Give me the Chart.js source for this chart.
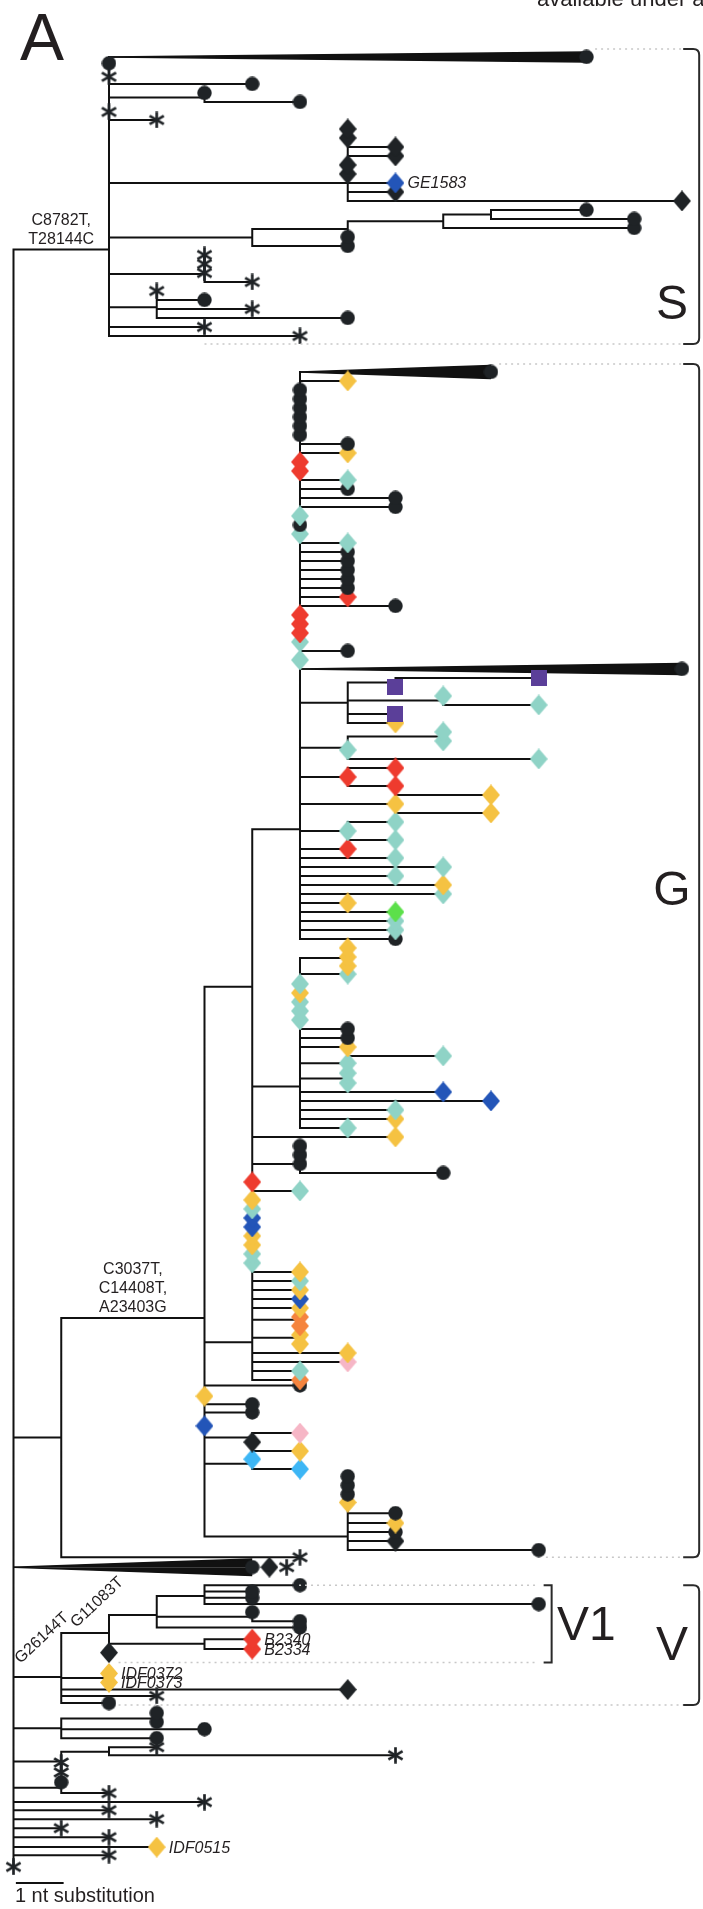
<!DOCTYPE html>
<html>
<head>
<meta charset="utf-8">
<title>Phylogeny A</title>
<script src="https://cdn.jsdelivr.net/npm/chart.js@4.4.1/dist/chart.umd.min.js"></script>
<style>
  html, body { margin: 0; padding: 0; background: #fff; }
  #tree { display: block; }
</style>
</head>
<body>
<canvas id="tree" width="703" height="1909"></canvas>
<script>
// --- TREE DATA ---
// every entry: [node id ('-' for a tip), parent id, distance from root (nt), row, tip mark, tip label]
// tip marks: c circle, a asterisk, q square, diamonds: k black, y yellow, t teal, r red,
// b blue, g green, o orange, p pink, l light blue
const sClade = [
  ['S', 'root', 2, 21.4],
  ['-', 'S', 2, 0.7, 'c'], ['-', 'S', 2, 2.2, 'a'], ['-', 'S', 5, 3, 'c'],
  ['sA', 'S', 4, 4.5], ['-', 'sA', 4, 4, 'c'], ['-', 'sA', 6, 5, 'c'],
  ['-', 'S', 2, 6.1, 'a'], ['-', 'S', 3, 7, 'a'],
  ['sB', 'S', 7, 14],
  ['-', 'sB', 7, 8, 'k'], ['-', 'sB', 7, 9, 'k'], ['-', 'sB', 8, 10, 'k'], ['-', 'sB', 8, 11, 'k'],
  ['-', 'sB', 7, 12, 'k'], ['-', 'sB', 7, 13, 'k'], ['-', 'sB', 8, 14, 'b', 'GE1583'],
  ['-', 'sB', 8, 15, 'k'], ['-', 'sB', 14, 16, 'k'],
  ['sC', 'S', 5, 20.06], ['sD', 'sC', 7, 19.1], ['sE', 'sD', 9, 18.25], ['sF', 'sE', 10, 17.5],
  ['-', 'sF', 12, 17, 'c'], ['-', 'sF', 13, 18, 'c'], ['-', 'sE', 13, 19, 'c'],
  ['-', 'sD', 7, 20, 'c'], ['-', 'sC', 7, 21, 'c'],
  ['sG', 'S', 4, 24.1], ['-', 'sG', 4, 22, 'a'], ['-', 'sG', 4, 23, 'a'], ['-', 'sG', 4, 24, 'a'], ['-', 'sG', 5, 25, 'a'],
  ['sI', 'S', 3, 27.8], ['-', 'sI', 3, 26, 'a'], ['-', 'sI', 4, 27, 'c'], ['-', 'sI', 5, 28, 'a'], ['-', 'sI', 7, 29, 'c'],
  ['-', 'S', 4, 30, 'a'], ['-', 'S', 6, 31, 'a']
];

const gUpper = [
  ['G', 'root', 1, 153.4], ['G4', 'G', 4, 140.1], ['G5a', 'G4', 5, 103.3], ['P6', 'G5a', 6, 85.8],
  ['-', 'P6', 7, 36, 'y'],
  ['-', 'P6', 6, 37, 'c'], ['-', 'P6', 6, 38, 'c'], ['-', 'P6', 6, 39, 'c'], ['-', 'P6', 6, 40, 'c'], ['-', 'P6', 6, 41, 'c'], ['-', 'P6', 6, 42, 'c'],
  ['-', 'P6', 7, 43, 'c'], ['-', 'P6', 7, 44, 'y'], ['-', 'P6', 6, 45, 'r'], ['-', 'P6', 6, 46, 'r'],
  ['-', 'P6', 7, 47, 't'], ['-', 'P6', 7, 48, 'c'], ['-', 'P6', 8, 49, 'c'], ['-', 'P6', 8, 50, 'c'],
  ['-', 'P6', 6, 51, 't'], ['-', 'P6', 6, 52, 'c'], ['-', 'P6', 6, 53, 't'],
  ['-', 'P6', 7, 54, 't'], ['-', 'P6', 7, 55, 'c'], ['-', 'P6', 7, 56, 'c'], ['-', 'P6', 7, 57, 'c'], ['-', 'P6', 7, 58, 'c'],
  ['-', 'P6', 7, 59, 'c'], ['-', 'P6', 7, 60, 'r'], ['-', 'P6', 8, 61, 'c'],
  ['-', 'P6', 6, 62, 'r'], ['-', 'P6', 6, 63, 'r'], ['-', 'P6', 6, 64, 'r'], ['-', 'P6', 6, 65, 't'], ['-', 'P6', 7, 66, 'c'], ['-', 'P6', 6, 67, 't'],
  ['N7a', 'P6', 7, 71.75], ['N8a', 'N7a', 8, 69.5], ['-', 'N8a', 11, 69, 'q'], ['-', 'N8a', 8, 70, 'q'],
  ['N9a', 'N7a', 9, 71.5], ['-', 'N9a', 9, 71, 't'], ['-', 'N9a', 11, 72, 't'], ['-', 'N7a', 8, 73, 'q'], ['-', 'N7a', 8, 74, 'y'],
  ['N7b', 'P6', 7, 76.75], ['N9b', 'N7b', 9, 75.5], ['-', 'N9b', 9, 75, 't'], ['-', 'N9b', 9, 76, 't'],
  ['-', 'N7b', 7, 77, 't'], ['-', 'N7b', 11, 78, 't'],
  ['N7c', 'P6', 7, 80], ['-', 'N7c', 8, 79, 'r'], ['-', 'N7c', 7, 80, 'r'],
  ['N8c', 'N7c', 8, 81], ['-', 'N8c', 8, 81, 'r'], ['-', 'N8c', 10, 82, 'y'],
  ['N8d', 'P6', 8, 83], ['-', 'N8d', 8, 83, 'y'], ['-', 'N8d', 10, 84, 'y'],
  ['N7e', 'P6', 7, 86], ['-', 'N7e', 8, 85, 't'], ['-', 'N7e', 7, 86, 't'], ['-', 'N7e', 8, 87, 't'],
  ['-', 'P6', 7, 88, 'r'], ['-', 'P6', 8, 89, 't'], ['-', 'P6', 9, 90, 't'], ['-', 'P6', 8, 91, 't'],
  ['-', 'P6', 9, 92, 'y'], ['-', 'P6', 9, 93, 't'], ['-', 'P6', 7, 94, 'y'], ['-', 'P6', 8, 95, 'g'],
  ['-', 'P6', 8, 96, 't'], ['-', 'P6', 8, 97, 't'], ['-', 'P6', 8, 98, 'c']
];

const gMiddle = [
  ['N6g', 'G5a', 6, 114.4],
  ['N7f', 'N6g', 7, 100.1], ['-', 'N7f', 7, 99, 'y'], ['-', 'N7f', 7, 100, 'y'], ['-', 'N7f', 7, 101, 'y'],
  ['-', 'N6g', 7, 101.9, 't'],
  ['-', 'N6g', 6, 103, 't'], ['-', 'N6g', 6, 104, 'y'], ['-', 'N6g', 6, 105, 't'], ['-', 'N6g', 6, 106, 't'], ['-', 'N6g', 6, 107, 't'],
  ['-', 'N6g', 7, 108, 'c'], ['-', 'N6g', 7, 109, 'c'],
  ['N7g', 'N6g', 7, 110], ['-', 'N7g', 7, 110, 'y'], ['-', 'N7g', 9, 111, 't'],
  ['-', 'N6g', 7, 111.8, 't'], ['N7h', 'N6g', 7, 113.5], ['-', 'N7h', 7, 112.9, 't'], ['-', 'N7h', 7, 114, 't'],
  ['-', 'N6g', 9, 115, 'b'], ['-', 'N6g', 10, 116, 'b'], ['-', 'N6g', 8, 117, 't'], ['-', 'N6g', 8, 118, 'y'], ['-', 'N6g', 7, 119, 't'],
  ['-', 'G5a', 8, 120, 'y'],
  ['N6h', 'G5a', 6, 123], ['-', 'N6h', 6, 121, 'c'], ['-', 'N6h', 6, 122, 'c'], ['-', 'N6h', 6, 123, 'c'], ['-', 'N6h', 9, 124, 'c'],
  ['-', 'G5a', 5, 125, 'r'], ['-', 'G5a', 6, 126, 't'],
  ['-', 'G5a', 5, 127, 'y'], ['-', 'G5a', 5, 128, 't'], ['-', 'G5a', 5, 129, 'b'], ['-', 'G5a', 5, 130, 'b'],
  ['-', 'G5a', 5, 131, 'y'], ['-', 'G5a', 5, 132, 'y'], ['-', 'G5a', 5, 133, 't'], ['-', 'G5a', 5, 134, 't']
];

const gLower = [
  ['G5b', 'G4', 5, 142.8],
  ['-', 'G5b', 6, 135, 'y'], ['-', 'G5b', 6, 136, 't'], ['-', 'G5b', 6, 137, 'y'], ['-', 'G5b', 6, 138, 'b'],
  ['-', 'G5b', 6, 139, 'y'],
  ['G6c', 'G5b', 6, 140.3], ['-', 'G6c', 6, 140, 'o'], ['-', 'G6c', 6, 141, 'o'],
  ['G6d', 'G5b', 6, 142.3], ['-', 'G6d', 6, 142, 'y'], ['-', 'G6d', 6, 143, 'y'],
  ['-', 'G5b', 7, 144, 'y'], ['-', 'G5b', 7, 145, 'p'], ['-', 'G5b', 6, 146, 't'], ['-', 'G5b', 6, 147, 'o'],
  ['-', 'G4', 6, 147.6, 'c'], ['-', 'G4', 4, 148.8, 'y'], ['-', 'G4', 5, 149.7, 'c'], ['-', 'G4', 5, 150.6, 'c'], ['-', 'G4', 4, 152.1, 'b'],
  ['N5h', 'G4', 5, 153.4], ['-', 'N5h', 6, 152.9, 'p'], ['-', 'N5h', 5, 153.9, 'k'], ['-', 'N5h', 6, 154.9, 'y'],
  ['N5i', 'G4', 5, 156.3], ['-', 'N5i', 5, 155.8, 'l'], ['-', 'N5i', 6, 156.9, 'l'],
  ['N7j', 'G4', 7, 164.4], ['-', 'N7j', 7, 157.7, 'c'], ['-', 'N7j', 7, 158.7, 'c'], ['-', 'N7j', 7, 159.7, 'c'],
  ['-', 'N7j', 7, 160.6, 'y'], ['-', 'N7j', 8, 161.8, 'c'], ['-', 'N7j', 8, 162.9, 'y'], ['-', 'N7j', 8, 163.9, 'c'],
  ['-', 'N7j', 8, 164.9, 'k'], ['-', 'N7j', 11, 165.9, 'c'],
  ['-', 'G', 6, 166.7, 'a']
];

const vClade = [
  ['V', 'root', 1, 180], ['V2', 'V', 2, 175.1], ['V1', 'V2', 3, 173.1], ['V1a', 'V1', 4, 171],
  ['-', 'V1a', 6, 169.8, 'c'], ['-', 'V1a', 5, 170.5, 'c'], ['-', 'V1a', 5, 171.2, 'c'], ['-', 'V1a', 11, 171.9, 'c'],
  ['V1b', 'V1', 5, 173.3], ['-', 'V1b', 5, 172.8, 'c'], ['-', 'V1b', 6, 173.8, 'c'], ['-', 'V1', 6, 174.5, 'c'],
  ['VB', 'V2', 4, 176.3], ['-', 'VB', 5, 175.8, 'r', 'B2340'], ['-', 'VB', 5, 176.9, 'r', 'B2334'],
  ['-', 'V2', 2, 177.3, 'k'],
  ['V3', 'V', 2, 180.1], ['-', 'V3', 2, 179.6, 'y', 'IDF0372'], ['-', 'V3', 2, 180.6, 'y', 'IDF0373'],
  ['-', 'V', 7, 181.4, 'k'], ['-', 'V', 3, 182.1, 'a'], ['-', 'V', 2, 182.9, 'c']
];

const basal = [
  ['R1', 'root', 1, 185.7], ['R1a', 'R1', 3, 184.6], ['-', 'R1a', 3, 184.0, 'c'], ['-', 'R1a', 3, 185.0, 'c'],
  ['-', 'R1', 4, 185.8, 'c'], ['-', 'R1', 3, 186.8, 'c'],
  ['R2', 'root', 1, 189.4], ['R2a', 'R2', 2, 188.3], ['-', 'R2a', 3, 187.8, 'a'], ['-', 'R2a', 8, 188.7, 'a'],
  ['-', 'R2', 1, 189.5, 'a'], ['-', 'R2', 1, 190.6, 'a'],
  ['R3', 'root', 1, 192.3], ['-', 'R3', 1, 191.7, 'c'], ['-', 'R3', 2, 192.9, 'a'],
  ['-', 'root', 4, 193.9, 'a'], ['-', 'root', 2, 194.8, 'a'], ['-', 'root', 3, 195.8, 'a'], ['-', 'root', 1, 196.8, 'a'],
  ['-', 'root', 2, 197.8, 'a'], ['-', 'root', 3, 198.9, 'y', 'IDF0515'], ['-', 'root', 2, 199.8, 'a'], ['-', 'root', 0, 201.1, 'a']
];

// collapsed clades: [parent, tip distance (nt), row, half height (rows), marks at the tip]
const collapsed = [
  ['S', 12, 0, 0.55, ['c']],
  ['P6', 10, 35, 0.72, ['c']],
  ['P6', 14, 68, 0.62, ['c']],
  ['root', 5, 167.8, 0.92, ['c', 'k', 'a']]
];

// named clades: [name, first row, last row]
const clades = [['S', -0.9, 31.9], ['G', 34.1, 166.7], ['V', 169.8, 183.1], ['V1', 169.8, 178.4]];
// branch mutations: [node, text lines]
const mutations = [['S', ['C8782T,', 'T28144C']], ['G4', ['C3037T,', 'C14408T,', 'A23403G']]];
const rotatedMutations = [['V', 'G26144T'], ['V2', 'G11083T']];

const colours = {
  c: '#1f2326', a: '#1f2326', k: '#1f2326', q: '#5b3f99',
  y: '#f5c242', t: '#8fd3c6', r: '#ee3b2e', b: '#2355b8', g: '#5ce04a',
  o: '#f5843e', p: '#f6b6c6', l: '#3db6f5'
};

// --- BUILD THE TREE ---
const nodes = new Map();
nodes.set('root', { x: 0, row: null, parent: null, kids: [] });
[...sClade, ...gUpper, ...gMiddle, ...gLower, ...vClade, ...basal].forEach((e, i) => {
  const [id, parent, x, row, mark, label] = e;
  nodes.set(id === '-' ? 'tip' + i : id, { x, row, parent, mark, label, kids: [] });
});
nodes.forEach(n => { if (n.parent) nodes.get(n.parent).kids.push(n.row); });
collapsed.forEach(w => nodes.get(w[0]).kids.push(w[2]));

const branchPts = [];
const addSeg = (x0, y0, x1, y1) => branchPts.push({ x: x0, y: y0 }, { x: x1, y: y1 }, { x: x1, y: null });
nodes.forEach(n => {
  if (n.parent) {
    const p = nodes.get(n.parent);
    if (n.x > p.x) addSeg(p.x, n.row, n.x, n.row);
  }
  if (n.kids.length) {
    const rows = n.row === null ? n.kids : [...n.kids, n.row];
    const lo = Math.min(...rows), hi = Math.max(...rows);
    if (hi > lo) addSeg(n.x, lo, n.x, hi);
  }
});

// tips, drawn from the bottom up so upper marks sit on top
const tips = [];
nodes.forEach(n => { if (n.mark) tips.push({ x: n.x, y: n.row, mark: n.mark, label: n.label }); });
collapsed.forEach(w => w[4].forEach((m, i) => tips.push({ x: w[1] + i * 0.36, y: w[2], mark: m })));
tips.sort((a, b) => b.y - a.y);

function makeMark(code) {
  const c = document.createElement('canvas');
  if (code === 'c') { c.width = 15; c.height = 15; }
  else if (code === 'a') { c.width = 17; c.height = 17; }
  else if (code === 'q') { c.width = 16; c.height = 16; }
  else { c.width = 18; c.height = 21; }
  const g = c.getContext('2d');
  g.fillStyle = colours[code];
  g.strokeStyle = colours[code];
  if (code === 'c') {
    g.beginPath(); g.arc(7.5, 7.5, 7.2, 0, Math.PI * 2); g.fill();
  } else if (code === 'a') {
    g.lineWidth = 2.7; g.lineCap = 'butt';
    for (let k = 0; k < 3; k++) {
      const ang = Math.PI / 2 + k * Math.PI / 3;
      g.beginPath();
      g.moveTo(8.5 + Math.cos(ang) * 8.2, 8.5 + Math.sin(ang) * 8.2);
      g.lineTo(8.5 - Math.cos(ang) * 8.2, 8.5 - Math.sin(ang) * 8.2);
      g.stroke();
    }
  } else if (code === 'q') {
    g.fillRect(0, 0, 16, 16);
  } else {
    g.beginPath(); g.moveTo(9, 0); g.lineTo(18, 10.5); g.lineTo(9, 21); g.lineTo(0, 10.5); g.closePath(); g.fill();
  }
  return c;
}
const markImg = {};
Object.keys(colours).forEach(k => { markImg[k] = makeMark(k); });

// wedges as two filled halves
const wedgeSets = [];
collapsed.forEach(w => {
  const x0 = nodes.get(w[0]).x;
  [-1, 1].forEach(s => wedgeSets.push({
    type: 'scatter', showLine: true, order: 1, clip: false,
    data: [{ x: x0, y: w[2] }, { x: w[1], y: w[2] + s * w[3] }],
    borderColor: '#111', borderWidth: 1.5, backgroundColor: '#111',
    pointRadius: 0, fill: { value: w[2] }
  }));
});

// scale bar: one nucleotide substitution
const scaleBar = [{ x: 0.05, y: 202.9 }, { x: 1.05, y: 202.9 }];

const decor = {
  id: 'decor',
  afterDraw(chart) {
    const { ctx, scales: { x, y } } = chart;
    const px = v => x.getPixelForValue(v), py = v => y.getPixelForValue(v);
    ctx.save();
    ctx.fillStyle = '#231f20';
    ctx.textBaseline = 'middle';

    // tip names
    ctx.font = 'italic 16px "Liberation Sans", Arial, sans-serif';
    ctx.textAlign = 'left';
    tips.forEach(t => { if (t.label) ctx.fillText(t.label, px(t.x) + 12, py(t.y) + 1); });

    // mutations above branches
    ctx.font = '16px "Liberation Sans", Arial, sans-serif';
    ctx.textAlign = 'center';
    ctx.textBaseline = 'alphabetic';
    mutations.forEach(([id, lines]) => {
      const n = nodes.get(id), p = nodes.get(n.parent);
      const cx = (px(n.x) + px(p.x)) / 2;
      lines.forEach((s, i) => ctx.fillText(s, cx, py(n.row) - 6 - (lines.length - 1 - i) * 19));
    });
    ctx.textAlign = 'left';
    const rotOffset = { V: [7, -13], V2: [15, -5] };
    rotatedMutations.forEach(([id, s]) => {
      const n = nodes.get(id), p = nodes.get(n.parent);
      ctx.save();
      ctx.translate(px(p.x) + rotOffset[id][0], py(n.row) + rotOffset[id][1]);
      ctx.rotate(-43 * Math.PI / 180);
      ctx.fillText(s, 0, 0);
      ctx.restore();
    });

    // clade brackets with dotted guides
    const bracketX = { S: 14.36, G: 14.36, V: 14.36, V1: 11.27 };
    const guideFrom = { S: [12.18, 4.0], G: [10.17, 11.15], V: [null, 2.2], V1: [5.98, 2.2] };
    clades.forEach(([name, r0, r1]) => {
      const bx = px(bracketX[name]), y0 = py(r0), y1 = py(r1);
      ctx.strokeStyle = '#c8c8c8'; ctx.lineWidth = 1.5; ctx.setLineDash([2, 4]);
      const [g0, g1] = guideFrom[name];
      ctx.beginPath();
      if (g0 !== null) { ctx.moveTo(px(g0), y0); ctx.lineTo(bx - 16, y0); }
      ctx.moveTo(px(g1), y1); ctx.lineTo(bx - 16, y1);
      ctx.stroke();
      ctx.setLineDash([]);
      ctx.strokeStyle = '#2a2a2a'; ctx.lineWidth = 2;
      ctx.beginPath();
      if (name === 'V1') {
        ctx.moveTo(bx - 8, y0); ctx.lineTo(bx, y0); ctx.lineTo(bx, y1); ctx.lineTo(bx - 8, y1);
      } else {
        ctx.moveTo(bx - 16, y0); ctx.lineTo(bx - 6, y0);
        ctx.quadraticCurveTo(bx, y0, bx, y0 + 6);
        ctx.lineTo(bx, y1 - 6);
        ctx.quadraticCurveTo(bx, y1, bx - 6, y1);
        ctx.lineTo(bx - 16, y1);
      }
      ctx.stroke();
    });

    // clade names
    ctx.fillStyle = '#231f20';
    ctx.font = '48px "Liberation Sans", Arial, sans-serif';
    ctx.textBaseline = 'alphabetic';
    ctx.textAlign = 'center';
    ctx.fillText('S', px(13.79), py(29.1));
    ctx.fillText('G', px(13.79), py(94.2));
    ctx.fillText('V', px(13.79), py(178.1));
    ctx.textAlign = 'left';
    ctx.fillText('V1', px(11.38), py(175.9));

    ctx.font = '66px "Liberation Sans", Arial, sans-serif';
    ctx.fillText('A', 20, 60);

    ctx.font = '22px "Liberation Sans", Arial, sans-serif';
    ctx.fillText('available under a', 537, 6);

    ctx.font = '20px "Liberation Sans", Arial, sans-serif';
    ctx.textBaseline = 'top';
    ctx.fillText('1 nt substitution', px(scaleBar[0].x) - 1, py(scaleBar[0].y) + 3);
    ctx.restore();
  }
};

new Chart(document.getElementById('tree'), {
  type: 'scatter',
  data: {
    datasets: [
      {
        order: 0, clip: false,
        data: tips.map(t => ({ x: t.x, y: t.y })),
        pointStyle: tips.map(t => markImg[t.mark]),
        pointRadius: 7
      },
      ...wedgeSets,
      {
        order: 2, showLine: true, clip: false, spanGaps: false,
        data: branchPts,
        borderColor: '#111', borderWidth: 2, borderCapStyle: 'square', pointRadius: 0
      },
      {
        order: 2, showLine: true, clip: false,
        data: scaleBar, borderColor: '#111', borderWidth: 2, pointRadius: 0
      }
    ]
  },
  options: {
    responsive: false,
    devicePixelRatio: 1,
    animation: false,
    events: [],
    layout: { padding: 0, autoPadding: false },
    plugins: { legend: { display: false }, tooltip: { enabled: false } },
    scales: {
      x: { type: 'linear', display: false, min: -0.2827, max: 14.44 },
      y: { type: 'linear', display: false, reverse: true, min: -6.333, max: 205.78 }
    }
  },
  plugins: [decor]
});
</script>
</body>
</html>
